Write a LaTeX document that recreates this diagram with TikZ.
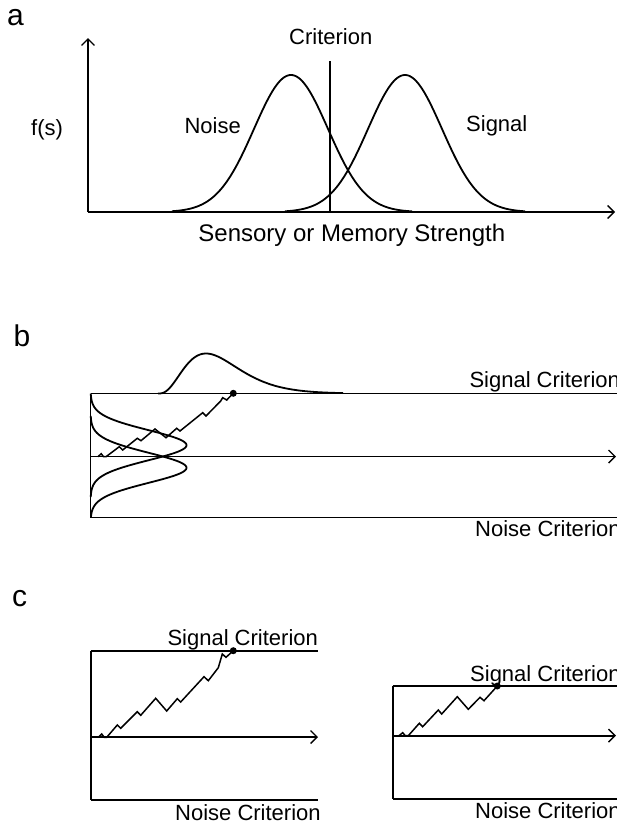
\documentclass[tikz,border=0pt]{standalone}
\usepackage{fontspec}
\setmainfont{Liberation Sans}
\usetikzlibrary{arrows.meta}
\begin{document}
\begin{tikzpicture}[x=1pt,y=-1pt,
  ln/.style={line width=1.8pt},
  axis/.style={line width=1.8pt,-{Straight Barb[length=6.5pt,width=13pt,line width=1.4pt]}},
  lbl/.style={inner sep=0pt,anchor=base west,font=\fontsize{22}{22}\selectfont},
  biglbl/.style={inner sep=0pt,anchor=base west,font=\fontsize{24}{24}\selectfont},
  panel/.style={inner sep=0pt,anchor=base west,font=\fontsize{30}{30}\selectfont},
  walk/.style={line width=1.5pt,line join=miter},
  hit/.style={circle,fill=black,inner sep=0pt,minimum size=7pt}]

\useasboundingbox (0,0) rectangle (617,825);

% ---------------- panel a: signal detection distributions
\node[panel] (la) at (7,25) {a};
\coordinate (aO) at (88,212);
\coordinate (aY) at (88,38);
\coordinate (aX) at (615,212);
\draw[axis] (aO) -- (aY);
\draw[axis] (aO) -- (aX);
\draw[ln] plot[domain=172:412,samples=140]
  (\x,{212-137*exp(-((\x-291)*(\x-291))/2738)});
\draw[ln] plot[domain=285:525,samples=140]
  (\x,{212-137*exp(-((\x-405)*(\x-405))/2738)});
\coordinate (cTop) at (330,61);
\coordinate (cBot) at (330,212);
\draw[ln] (cTop) -- (cBot);
\node[lbl] (crit) at (289,44.3) {Criterion};
\node[lbl] (fs) at (31,135) {f(s)};
\node[lbl] (noise) at (184.4,133.3) {Noise};
\node[lbl] (signal) at (466,131.7) {Signal};
\node[biglbl] (strength) at (198.2,241.7) {Sensory or Memory Strength};

% ---------------- panel b: diffusion with both criteria
\node[panel] (lb) at (13.3,346) {b};
\coordinate (bTL) at (90.5,393.5);
\coordinate (bTR) at (620,393.5);
\coordinate (bML) at (90.5,456.5);
\coordinate (bMR) at (616,456.5);
\coordinate (bBL) at (90.5,517.5);
\coordinate (bBR) at (620,517.5);
\draw[ln] (bTL) -- (bTR);
\draw[axis] (bML) -- (bMR);
\draw[ln] (bBL) -- (bBR);
\draw[ln] (bTL) -- (bBL);
% starting-point distributions lying on their side
\draw[ln] plot[domain=393.5:497,samples=120]
  ({90.5+96*exp(-((\x-445.2)*(\x-445.2))/450)},\x);
\draw[ln] plot[domain=416:517.5,samples=120]
  ({90.5+96*exp(-((\x-467.8)*(\x-467.8))/450)},\x);
% finishing-time density above the signal criterion
\draw[ln] plot[domain=0:185,samples=140]
  ({158+\x},{393.5-40*(\x/48)^3*exp(3-\x/16)});
\draw[walk] (98,456.7) -- (101.2,453.7) -- (103.5,456.7) -- (106,456.7)
  -- (119.3,446.7) -- (122.7,450) -- (137.3,438.3) -- (141,440.7)
  -- (155,429) -- (166,437.7) -- (176.7,428.3) -- (180,431)
  -- (202.7,412.7) -- (206,416) -- (220.7,401) -- (222.7,397.7)
  -- (226.7,400) -- (233.3,393.3);
\node[hit] (bHit) at (233.3,393.3) {};
\node[lbl] (bSig) at (469.3,387.7) {Signal Criterion};
\node[lbl] (bNoi) at (475,536.7) {Noise Criterion};

% ---------------- panel c: two criterion settings
\node[panel] (lc) at (12,606) {c};
% left box
\coordinate (lTL) at (90.7,650.7);
\coordinate (lTR) at (318,650.7);
\coordinate (lML) at (90.7,737);
\coordinate (lMR) at (318,737);
\coordinate (lBL) at (90.7,800);
\coordinate (lBR) at (318,800);
\draw[ln] (lTL) -- (lTR);
\draw[axis] (lML) -- (lMR);
\draw[ln] (lBL) -- (lBR);
\draw[ln] (lTL) -- (lBL);
\draw[walk] (98.5,737.3) -- (101.7,734) -- (104.3,737.3) -- (106.7,737.3)
  -- (117.3,725) -- (120.7,728.3) -- (137.3,711.7) -- (140.7,715.3)
  -- (155.7,698.3) -- (166.7,711) -- (177.3,698.7) -- (180.7,702)
  -- (204,676.7) -- (208.3,680.7) -- (218.3,667.7) -- (222.3,654)
  -- (226,657.3) -- (233.3,650.7);
\node[hit] (lHit) at (233.3,650.7) {};
\node[lbl] (lSig) at (167.3,645.7) {Signal Criterion};
\node[lbl] (lNoi) at (175,820.7) {Noise Criterion};
% right box
\coordinate (rTL) at (392.7,686);
\coordinate (rTR) at (620,686);
\coordinate (rML) at (392.7,735.7);
\coordinate (rMR) at (616,735.7);
\coordinate (rBL) at (392.7,799);
\coordinate (rBR) at (620,799);
\draw[ln] (rTL) -- (rTR);
\draw[axis] (rML) -- (rMR);
\draw[ln] (rBL) -- (rBR);
\draw[ln] (rTL) -- (rBL);
\draw[walk] (399,735.7) -- (402.7,732.7) -- (405.3,735.7) -- (408.3,735.7)
  -- (419.3,723.3) -- (422.7,726.7) -- (438.3,710) -- (441.7,714)
  -- (457.3,696.7) -- (468.3,709.3) -- (480,697.3) -- (484,700.7)
  -- (497.3,686);
\node[hit] (rHit) at (497.3,686) {};
\node[lbl] (rSig) at (470,681) {Signal Criterion};
\node[lbl] (rNoi) at (475,818.3) {Noise Criterion};
\end{tikzpicture}
\end{document}
